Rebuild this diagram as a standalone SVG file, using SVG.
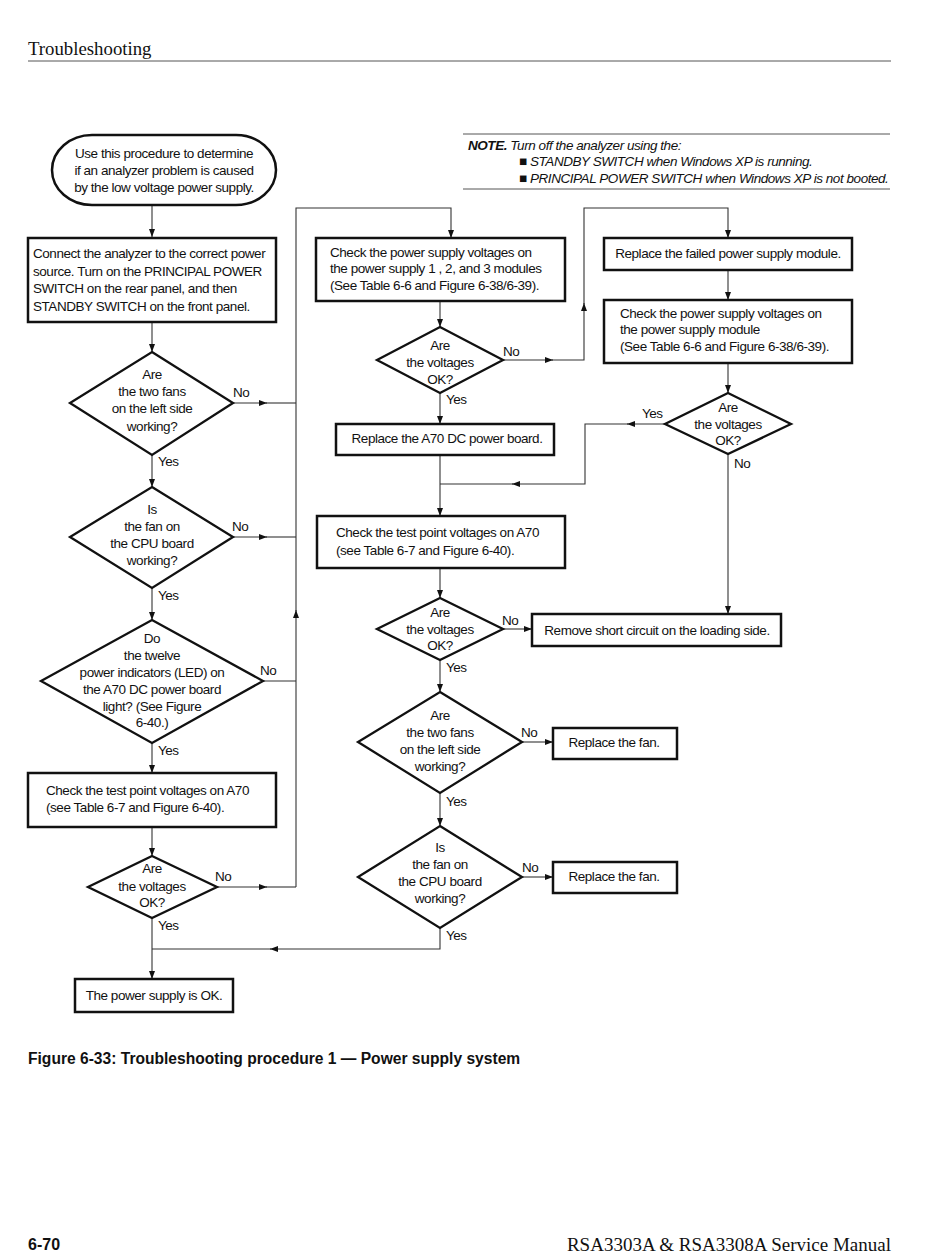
<svg xmlns="http://www.w3.org/2000/svg" width="950" height="1260" viewBox="0 0 950 1260">
<style>
text{font-family:"Liberation Sans",Arial,sans-serif;font-size:13.5px;letter-spacing:-0.45px;fill:#111}
.c{text-anchor:middle}
.box{fill:#fff;stroke:#111;stroke-width:2.5}
.dia{fill:#fff;stroke:#111;stroke-width:2.3;stroke-linejoin:miter}
.ln{fill:none;stroke:#333;stroke-width:1.1}
.ar{marker-end:url(#ah)}
.rule{stroke:#555;stroke-width:1}
.it{font-style:italic}
</style>
<defs>
<marker id="ah" viewBox="0 0 8 6" refX="8" refY="3" markerWidth="8" markerHeight="6" markerUnits="userSpaceOnUse" orient="auto"><path d="M0,0 L8,3 L0,6 z" fill="#111"/></marker>
</defs>
<rect width="950" height="1260" fill="#fff"/>
<g id="header">
<text x="28" y="55" style="font-family:'Liberation Serif','Times New Roman',serif;font-size:18.8px;letter-spacing:0">Troubleshooting</text>
<line class="rule" x1="28" y1="61" x2="891" y2="61"/>
</g>
<g id="note">
<line class="rule" x1="463" y1="134" x2="890" y2="134"/>
<line class="rule" x1="463" y1="189" x2="890" y2="189"/>
<text x="468" y="150" class="it"><tspan font-weight="bold">NOTE.</tspan> Turn off the analyzer using the:</text>
<text x="519" y="166" class="it">■ STANDBY SWITCH when Windows XP is running.</text>
<text x="519" y="183" class="it">■ PRINCIPAL POWER SWITCH when Windows XP is not booted.</text>
</g>
<g id="connectors">
<path class="ln ar" d="M152,205 V237"/>
<path class="ln ar" d="M152,322 V352"/>
<path class="ln ar" d="M152,455 V487"/>
<path class="ln ar" d="M152,588 V620"/>
<path class="ln ar" d="M152,743 V773"/>
<path class="ln ar" d="M152,827 V856"/>
<path class="ln ar" d="M152,918 V979"/>
<path class="ln ar" d="M233,403 H267"/><path class="ln" d="M266,403 H296"/>
<path class="ln ar" d="M233,537 H267"/><path class="ln" d="M266,537 H296"/>
<path class="ln" d="M263,681 H296"/>
<path class="ln ar" d="M217,887 H267"/><path class="ln" d="M266,887 H296"/>
<path class="ln ar" d="M296,887 V610"/><path class="ln ar" d="M296,611 V208 H451 V238"/>
<path class="ln ar" d="M440,301 V327"/>
<path class="ln ar" d="M503,360 H553"/><path class="ln ar" d="M552,360 H584 V303"/><path class="ln ar" d="M584,304 V208 H728 V238"/>
<path class="ln ar" d="M440,393 V424"/>
<path class="ln ar" d="M440,455 V516"/>
<path class="ln ar" d="M665,424 H627"/><path class="ln ar" d="M628,424 H585 V484 H512"/><path class="ln" d="M513,484 H440"/>
<path class="ln ar" d="M728,270 V300"/>
<path class="ln ar" d="M728,363 V393"/>
<path class="ln ar" d="M728,454 V614"/>
<path class="ln ar" d="M440,568 V598"/>
<path class="ln ar" d="M503,629 H532"/>
<path class="ln ar" d="M440,660 V692"/>
<path class="ln ar" d="M522,742 H553"/>
<path class="ln ar" d="M440,793 V826"/>
<path class="ln ar" d="M522,877 H553"/>
<path class="ln ar" d="M440,928 V949 H270"/><path class="ln" d="M271,949 H152"/>
</g>
<g id="labels">
<text x="233" y="397">No</text><text x="158" y="466">Yes</text>
<text x="232" y="531">No</text><text x="158" y="600">Yes</text>
<text x="260" y="675">No</text><text x="158" y="755">Yes</text>
<text x="215" y="881">No</text><text x="158" y="930">Yes</text>
<text x="503" y="356">No</text><text x="446" y="404">Yes</text>
<text x="642" y="418">Yes</text><text x="734" y="468">No</text>
<text x="502" y="625">No</text><text x="446" y="672">Yes</text>
<text x="521" y="737">No</text><text x="446" y="806">Yes</text>
<text x="522" y="872">No</text><text x="446" y="940">Yes</text>
</g>
<g id="start">
<rect class="box" x="52" y="135" width="224" height="70" rx="40" ry="35"/>
<text class="c" x="164" y="158">Use this procedure to determine</text>
<text class="c" x="164" y="175">if an analyzer problem is caused</text>
<text class="c" x="164" y="192">by the low voltage power supply.</text>
</g>
<g id="connect">
<rect class="box" x="28" y="238" width="248" height="84"/>
<text x="33" y="258">Connect the analyzer to the correct power</text>
<text x="33" y="276">source. Turn on the PRINCIPAL POWER</text>
<text x="33" y="293">SWITCH on the rear panel, and then</text>
<text x="33" y="311">STANDBY SWITCH on the front panel.</text>
</g>
<g id="d1">
<polygon class="dia" points="152,352 233,403 152,455 70,403"/>
<text class="c" x="152" y="379">Are</text>
<text class="c" x="152" y="396">the two fans</text>
<text class="c" x="152" y="413">on the left side</text>
<text class="c" x="152" y="431">working?</text>
</g>
<g id="d2">
<polygon class="dia" points="152,487 233,537 152,588 70,537"/>
<text class="c" x="152" y="514">Is</text>
<text class="c" x="152" y="531">the fan on</text>
<text class="c" x="152" y="548">the CPU board</text>
<text class="c" x="152" y="565">working?</text>
</g>
<g id="d3">
<polygon class="dia" points="152,620 263,681 152,743 41,681"/>
<text class="c" x="152" y="643">Do</text>
<text class="c" x="152" y="660">the twelve</text>
<text class="c" x="152" y="677">power indicators (LED) on</text>
<text class="c" x="152" y="694">the A70 DC power board</text>
<text class="c" x="152" y="711">light? (See Figure</text>
<text class="c" x="152" y="727">6-40.)</text>
</g>
<g id="testpoint1">
<rect class="box" x="28" y="773" width="248" height="54"/>
<text x="46" y="795">Check the test point voltages on A70</text>
<text x="46" y="812">(see Table 6-7 and Figure 6-40).</text>
</g>
<g id="d4">
<polygon class="dia" points="152,856 217,887 152,918 88,887"/>
<text class="c" x="152" y="873">Are</text>
<text class="c" x="152" y="891">the voltages</text>
<text class="c" x="152" y="907">OK?</text>
</g>
<g id="ok">
<rect class="box" x="75" y="979" width="158" height="33"/>
<text class="c" x="154" y="1000">The power supply is OK.</text>
</g>
<g id="check123">
<rect class="box" x="316" y="238" width="249" height="63"/>
<text x="330" y="257">Check the power supply voltages on</text>
<text x="330" y="273">the power supply 1 , 2, and 3 modules</text>
<text x="330" y="290">(See Table 6-6 and Figure 6-38/6-39).</text>
</g>
<g id="d5">
<polygon class="dia" points="440,327 503,360 440,393 377,360"/>
<text class="c" x="440" y="350">Are</text>
<text class="c" x="440" y="367">the voltages</text>
<text class="c" x="440" y="384">OK?</text>
</g>
<g id="replaceA70">
<rect class="box" x="336" y="424" width="218" height="31"/>
<text class="c" x="447" y="443">Replace the A70 DC power board.</text>
</g>
<g id="testpoint2">
<rect class="box" x="317" y="516" width="248" height="52"/>
<text x="336" y="537">Check the test point voltages on A70</text>
<text x="336" y="555">(see Table 6-7 and Figure 6-40).</text>
</g>
<g id="d7">
<polygon class="dia" points="440,598 503,629 440,660 377,629"/>
<text class="c" x="440" y="617">Are</text>
<text class="c" x="440" y="634">the voltages</text>
<text class="c" x="440" y="650">OK?</text>
</g>
<g id="short">
<rect class="box" x="532" y="614" width="249" height="32"/>
<text class="c" x="657" y="635">Remove short circuit on the loading side.</text>
</g>
<g id="d8">
<polygon class="dia" points="440,692 522,742 440,793 358,742"/>
<text class="c" x="440" y="720">Are</text>
<text class="c" x="440" y="737">the two fans</text>
<text class="c" x="440" y="754">on the left side</text>
<text class="c" x="440" y="771">working?</text>
</g>
<g id="fan1">
<rect class="box" x="553" y="728" width="124" height="31"/>
<text class="c" x="614" y="747">Replace the fan.</text>
</g>
<g id="d9">
<polygon class="dia" points="440,826 522,877 440,928 358,877"/>
<text class="c" x="440" y="852">Is</text>
<text class="c" x="440" y="869">the fan on</text>
<text class="c" x="440" y="886">the CPU board</text>
<text class="c" x="440" y="903">working?</text>
</g>
<g id="fan2">
<rect class="box" x="553" y="862" width="124" height="31"/>
<text class="c" x="614" y="881">Replace the fan.</text>
</g>
<g id="replaceModule">
<rect class="box" x="604" y="238" width="248" height="32"/>
<text class="c" x="728" y="258">Replace the failed power supply module.</text>
</g>
<g id="checkModule">
<rect class="box" x="604" y="300" width="248" height="63"/>
<text x="620" y="318">Check the power supply voltages on</text>
<text x="620" y="334">the power supply module</text>
<text x="620" y="351">(See Table 6-6 and Figure 6-38/6-39).</text>
</g>
<g id="d6">
<polygon class="dia" points="728,393 791,424 728,454 665,424"/>
<text class="c" x="728" y="412">Are</text>
<text class="c" x="728" y="429">the voltages</text>
<text class="c" x="728" y="445">OK?</text>
</g>
<g id="caption">
<text x="28" y="1064" style="font-weight:bold;font-size:15.6px;letter-spacing:0">Figure 6-33: Troubleshooting procedure 1 — Power supply system</text>
</g>
<g id="footer">
<text x="28" y="1250" style="font-weight:bold;font-size:16px;letter-spacing:0">6-70</text>
<text x="891" y="1251" style="font-family:'Liberation Serif','Times New Roman',serif;font-size:19px;letter-spacing:0;text-anchor:end">RSA3303A &amp; RSA3308A Service Manual</text>
</g>
</svg>
